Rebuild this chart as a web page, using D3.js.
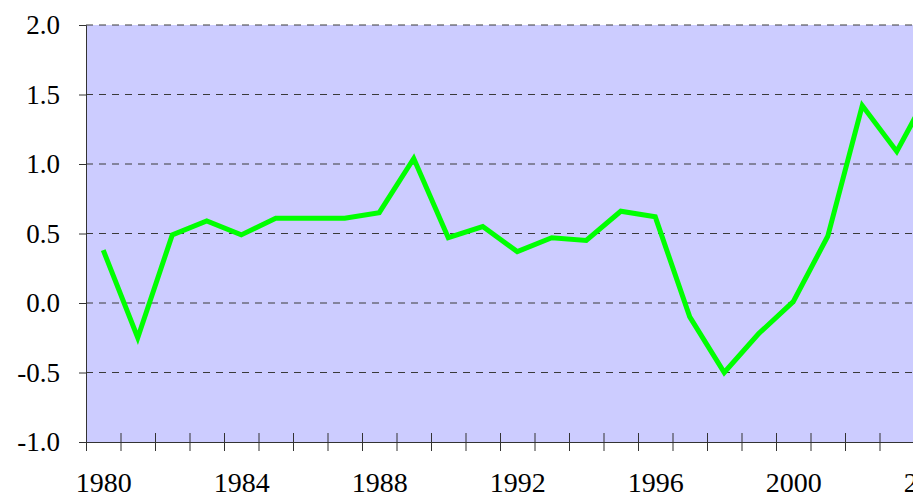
<!DOCTYPE html>
<html>
<head>
<meta charset="utf-8">
<script src="https://cdn.jsdelivr.net/npm/d3@7"></script>
<style>
  body { margin: 0; background: #fff; }
  svg { display: block; }
</style>
</head>
<body>
<div id="chart"></div>
<script>
// 数据
const years = d3.range(1980, 2005)
const values = [0.38, -0.25, 0.49, 0.59, 0.49, 0.61, 0.61, 0.61, 0.65, 1.04,
                0.47, 0.55, 0.37, 0.47, 0.45, 0.66, 0.62, -0.10, -0.50, -0.22,
                0.01, 0.48, 1.42, 1.09, 1.55]
const yTicks = [-1.0, -0.5, 0.0, 0.5, 1.0, 1.5, 2.0]
const labelYears = [1980, 1984, 1988, 1992, 1996, 2000, 2004]

const width = 913
const height = 497
const plotLeft = 86, plotTop = 25, plotBottom = 442
const bandW = 34.5
const plotRight = plotLeft + bandW * years.length
const serif = '"Liberation Serif", "Times New Roman", serif'

const svg = d3.select('#chart').append('svg')
  .attr('width', width).attr('height', height)

// 坐标比例
const x = d3.scaleLinear().domain([1980, 1980 + years.length]).range([plotLeft, plotRight])
const y = d3.scaleLinear().domain([-1, 2]).range([plotBottom, plotTop])

// 背景
svg.append('rect')
  .attr('x', plotLeft).attr('y', plotTop)
  .attr('width', plotRight - plotLeft).attr('height', plotBottom - plotTop)
  .attr('fill', '#ccccff')

// 网格线
svg.append('g')
  .selectAll('line')
  .data(yTicks.filter(d => d > -1))
  .join('line')
  .attr('x1', plotLeft).attr('x2', plotRight)
  .attr('y1', d => y(d)).attr('y2', d => y(d))
  .attr('stroke', '#3a3a3a')
  .attr('stroke-width', 1)
  .attr('stroke-dasharray', '7,6')

// y 轴
const yAxis = svg.append('g')
  .attr('transform', 'translate(' + plotLeft + ',0)')
  .call(d3.axisLeft(y).tickValues(yTicks).tickSize(7).tickPadding(19))
yAxis.select('.domain').attr('stroke', '#333')
yAxis.selectAll('.tick line').attr('stroke', '#333')
yAxis.selectAll('text')
  .style('font-family', serif)
  .style('font-size', '27px')
  .attr('fill', '#000')
  .text(d => d.toFixed(1))

// x 轴刻度（类别边界）
const xAxis = svg.append('g')
  .attr('transform', 'translate(0,' + plotBottom + ')')
  .call(d3.axisBottom(x).tickValues(years.concat([1980 + years.length])).tickFormat('').tickSize(9))
xAxis.select('.domain').attr('stroke', '#333')
xAxis.selectAll('.tick line').attr('stroke', '#333').attr('y1', -9)

// x 轴标签（类别中心）
const xLabels = svg.append('g')
  .attr('transform', 'translate(0,' + plotBottom + ')')
  .call(d3.axisBottom(x).tickValues(labelYears.map(d => d + 0.5)).tickFormat(d => Math.floor(d)).tickSize(0).tickPadding(30))
xLabels.select('.domain').remove()
xLabels.selectAll('text')
  .style('font-family', serif)
  .style('font-size', '28px')
  .attr('fill', '#000')

// 折线
const line = d3.line()
  .x((d, i) => x(years[i] + 0.5))
  .y(d => y(d))

svg.append('path')
  .datum(values)
  .attr('d', line)
  .attr('fill', 'none')
  .attr('stroke', '#00ff00')
  .attr('stroke-width', 5)
  .attr('stroke-linejoin', 'miter')
</script>
</body>
</html>
